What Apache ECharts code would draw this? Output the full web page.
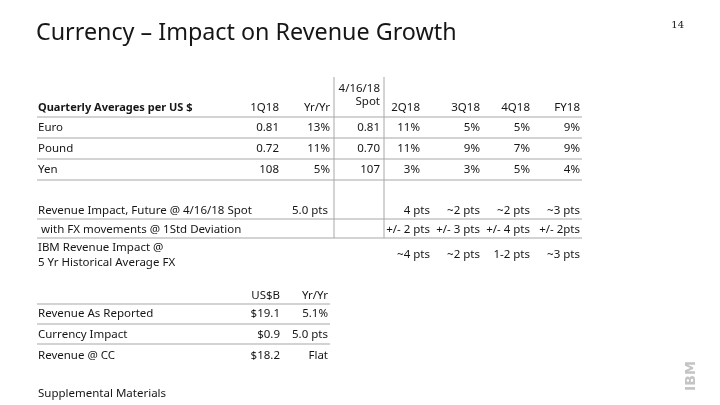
<!DOCTYPE html>
<html><head><meta charset="utf-8">
<script src="https://cdn.jsdelivr.net/npm/echarts@6/dist/echarts.min.js"></script>
<style>html,body{margin:0;padding:0;background:#fff}#c{width:720px;height:405px}</style>
</head><body><div id="c"></div>
<script>
// ---- data ----
const slideTitle = 'Currency – Impact on Revenue Growth';
const pageNumber = '14';
const footer = 'Supplemental Materials';
const table1Header = 'Quarterly Averages per US $';
const table1Cols = ['1Q18', 'Yr/Yr', '4/16/18\nSpot', '2Q18', '3Q18', '4Q18', 'FY18'];
const currencies = ['Euro', 'Pound', 'Yen'];
const rate1Q18 = [0.81, 0.72, 108];
const yrYr1Q18 = [13, 11, 5];
const spotRate = [0.81, 0.70, 107];
const yrYr2Q18 = [11, 11, 3];
const yrYr3Q18 = [5, 9, 3];
const yrYr4Q18 = [5, 7, 5];
const yrYrFY18 = [9, 9, 4];
const impactLabels = ['Revenue Impact, Future @ 4/16/18 Spot', ' with FX movements @ 1Std Deviation', 'IBM Revenue Impact @\n5 Yr Historical Average FX'];
const impact1Q18 = ['5.0 pts', '', ''];
const impact2Q18 = ['4 pts', '+/- 2 pts', '~4 pts'];
const impact3Q18 = ['~2 pts', '+/- 3 pts', '~2 pts'];
const impact4Q18 = ['~2 pts', '+/- 4 pts', '1-2 pts'];
const impactFY18 = ['~3 pts', '+/- 2pts', '~3 pts'];
const table2Cols = ['US$B', 'Yr/Yr'];
const table2Rows = ['Revenue As Reported', 'Currency Impact', 'Revenue @ CC'];
const revenueUSD = ['$19.1', '$0.9', '$18.2'];
const revenueYrYr = ['5.1%', '5.0 pts', 'Flat'];

// ---- layout ----
const FONT = '"Noto Sans",sans-serif';
const FS = 11.5;
const TXT = '#161616';
const LINE = '#a8a8a8';
const colRight = [279, 330, 380, 420, 480, 530, 580];
const ptsRight = [328, 380, 430, 480, 530, 580];
const g = [];
function text(x, y, s, opt) {
  opt = opt || {};
  g.push({type: 'text', x: x, y: y, silent: true,
    style: {text: s, fill: opt.fill || TXT, font: (opt.weight || 'normal') + ' ' + (opt.size || FS) + 'px ' + (opt.family || FONT),
      textAlign: opt.align || 'left', textVerticalAlign: 'middle', lineHeight: opt.lh || 18}});
}
function hline(x1, x2, y, w, c) {
  g.push({type: 'line', silent: true, shape: {x1: x1, y1: y, x2: x2, y2: y}, style: {stroke: c || LINE, lineWidth: w || 1}});
}
function vline(x, y1, y2) {
  g.push({type: 'line', silent: true, shape: {x1: x, y1: y1, x2: x, y2: y2}, style: {stroke: LINE, lineWidth: 1}});
}
const fmtRate = v => v < 10 ? v.toFixed(2) : String(v);
const fmtPct = v => v + '%';

// title & page
text(36, 33, slideTitle, {size: 23.3});
text(684, 25, pageNumber, {size: 10, align: 'right', family: '"DejaVu Serif",serif'});

// table 1 header
const headY = 108;
text(38, headY, table1Header, {weight: 'bold', size: 11});
table1Cols.forEach((c, i) => {
  if (c.indexOf('\n') >= 0) {
    const p = c.split('\n');
    text(colRight[i], 89, p[0], {align: 'right'});
    text(colRight[i], 102, p[1], {align: 'right'});
  } else text(colRight[i], headY, c, {align: 'right'});
});
const rowY = [128, 149, 170];
const lineY = [117, 138, 159, 180];
lineY.forEach(y => hline(37, 582, y, 1.2));
const cols = [rate1Q18.map(fmtRate), yrYr1Q18.map(fmtPct), spotRate.map(fmtRate), yrYr2Q18.map(fmtPct), yrYr3Q18.map(fmtPct), yrYr4Q18.map(fmtPct), yrYrFY18.map(fmtPct)];
currencies.forEach((c, r) => {
  text(38, rowY[r], c);
  cols.forEach((col, i) => text(colRight[i], rowY[r], col[r], {align: 'right'}));
});
vline(334, 77, 238);
vline(384, 77, 238);

// impact rows
const impY = [211, 230, 255];
const impCols = [impact1Q18, [], impact2Q18, impact3Q18, impact4Q18, impactFY18];
impactLabels.forEach((l, r) => {
  if (r === 2) {
    text(38, 248, l.split('\n')[0]);
    text(38, 263, l.split('\n')[1]);
  } else text(38, impY[r], l);
  impCols.forEach((col, i) => { if (col[r]) text(ptsRight[i], impY[r], col[r], {align: 'right'}); });
});
hline(37, 582, 219, 1.2);
hline(37, 582, 238, 1.2);

// table 2
const t2Right = [280, 328];
text(t2Right[0], 296, table2Cols[0], {align: 'right'});
text(t2Right[1], 296, table2Cols[1], {align: 'right'});
const t2Y = [314, 335, 356];
[304, 324, 344].forEach(y => hline(37, 330, y, 1.2));
table2Rows.forEach((l, r) => {
  text(38, t2Y[r], l);
  text(t2Right[0], t2Y[r], revenueUSD[r], {align: 'right'});
  text(t2Right[1], t2Y[r], revenueYrYr[r], {align: 'right'});
});

text(38, 394, footer);

// IBM logo (rotated)
g.push({type: 'text', x: 691, y: 376, rotation: Math.PI / 2, silent: true,
  style: {text: 'IBM', fill: '#c4c4c4', font: 'bold 14px "DejaVu Sans",sans-serif', textAlign: 'center', textVerticalAlign: 'middle'}});

const chart = echarts.init(document.getElementById('c'), null, {renderer: 'canvas'});
chart.setOption({animation: false, backgroundColor: '#fff', graphic: {elements: g}});
</script></body></html>
